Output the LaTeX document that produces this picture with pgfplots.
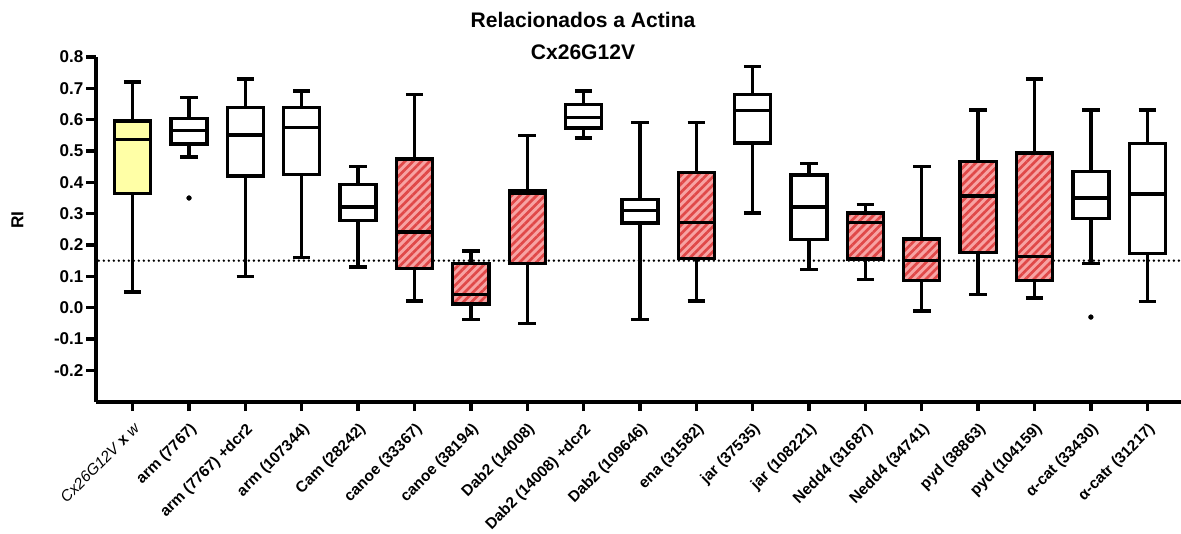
\documentclass[border=0pt]{standalone}
\usepackage{pgfplots}
\pgfplotsset{compat=1.18}
\usepgfplotslibrary{statistics}
\usetikzlibrary{patterns.meta}
\usepackage{fontspec}
\setmainfont{Liberation Sans}
\definecolor{hatchbg}{HTML}{F7A3A3}
\definecolor{hatchfg}{HTML}{E04848}
\definecolor{yel}{HTML}{FFFFA6}
\pgfplotsset{
  wbox/.style={black, line width=2.5pt, solid,
    boxplot/every box/.style={fill=white},
    mark=*, mark size=1.8pt, mark options={solid, fill=black, line width=0.3pt}},
  ybox/.style={black, line width=2.5pt, solid,
    boxplot/every box/.style={fill=yel},
    mark=*, mark size=1.8pt, mark options={solid, fill=black, line width=0.3pt}},
  hbox/.style={black, line width=2.5pt, solid,
    boxplot/every box/.style={fill=hatchbg,
      postaction={pattern={Lines[angle=45,distance=4.4pt,line width=2pt]}, pattern color=hatchfg},
      postaction={draw=black, line width=2.5pt}},
    mark=*, mark size=1.8pt, mark options={solid, fill=black, line width=0.3pt}},
}
\begin{document}
\begin{tikzpicture}
\path[use as bounding box] (0,0) rectangle (885.75pt,399.75pt);
\node[font=\fontsize{15.8}{18}\selectfont\bfseries, inner sep=0pt, anchor=center] at (437.25pt,385.1pt) {Relacionados a Actina};
\node[font=\fontsize{15.8}{18}\selectfont\bfseries, inner sep=0pt, anchor=center] at (437.25pt,360.4pt) {Cx26G12V};
\node[font=\fontsize{13}{15}\selectfont\bfseries, inner sep=0pt, anchor=center, rotate=90] at (13.1pt,234.75pt) {RI};
\begin{axis}[
  at={(71.8pt,98.5pt)}, anchor=south west,
  scale only axis, width=814pt, height=258.5pt,
  xmin=-0.655, xmax=18.6, ymin=-0.3, ymax=0.8,
  clip=false,
  axis x line*=bottom, axis y line*=left,
  axis line style={line width=3pt, -},
  tick align=outside,
  major tick length=7pt,
  tick style={line width=2.5pt, black},
  ytick={-0.2,-0.1,0,0.1,0.2,0.3,0.4,0.5,0.6,0.7,0.8},
  yticklabels={-0.2,-0.1,0.0,0.1,0.2,0.3,0.4,0.5,0.6,0.7,0.8},
  xtick={0,...,18},
  xticklabels={{\mdseries\itshape Cx26G12V} x {\mdseries\itshape w},
    arm (7767), arm (7767) +dcr2, arm (107344), Cam (28242), canoe (33367),
    canoe (38194), Dab2 (14008), Dab2 (14008) +dcr2, Dab2 (109646),
    ena (31582), jar (37535), jar (108221), Nedd4 (31687), Nedd4 (34741),
    pyd (38863), pyd (104159), α-cat (33430), α-catr (31217)},
  yticklabel style={font=\fontsize{12.8}{15}\selectfont\bfseries, inner sep=2pt},
  xticklabel style={font=\fontsize{11.6}{13}\selectfont\bfseries, yshift=-6pt, rotate=45, anchor=north east, inner sep=1.5pt},
  boxplot/draw direction=y,
  boxplot/box extend=0.64,
  boxplot/whisker extend=0.31,
]
\addplot[black, line width=2pt, dash pattern=on 0pt off 3.75pt, line cap=round] coordinates {(-0.6,0.15) (18.6,0.15)};

\addplot[ybox, boxplot prepared={draw position=0, lower whisker=0.05, lower quartile=0.365, median=0.537, upper quartile=0.596, upper whisker=0.72}] coordinates {};
\addplot[wbox, boxplot prepared={draw position=1, lower whisker=0.481, lower quartile=0.522, median=0.566, upper quartile=0.604, upper whisker=0.671}] table[row sep=\\, y index=0] {y\\ 0.35\\};
\addplot[wbox, boxplot prepared={draw position=2, lower whisker=0.10, lower quartile=0.42, median=0.551, upper quartile=0.639, upper whisker=0.73}] coordinates {};
\addplot[wbox, boxplot prepared={draw position=3, lower whisker=0.16, lower quartile=0.425, median=0.576, upper quartile=0.638, upper whisker=0.692}] coordinates {};
\addplot[wbox, boxplot prepared={draw position=4, lower whisker=0.13, lower quartile=0.279, median=0.321, upper quartile=0.393, upper whisker=0.451}] coordinates {};
\addplot[hbox, boxplot prepared={draw position=5, lower whisker=0.021, lower quartile=0.125, median=0.242, upper quartile=0.474, upper whisker=0.681}] coordinates {};
\addplot[hbox, boxplot prepared={draw position=6, lower whisker=-0.038, lower quartile=0.012, median=0.042, upper quartile=0.14, upper whisker=0.181}] coordinates {};
\addplot[hbox, boxplot prepared={draw position=7, lower whisker=-0.05, lower quartile=0.14, median=0.366, upper quartile=0.372, upper whisker=0.55}] coordinates {};
\addplot[wbox, boxplot prepared={draw position=8, lower whisker=0.542, lower quartile=0.573, median=0.607, upper quartile=0.648, upper whisker=0.692}] coordinates {};
\addplot[wbox, boxplot prepared={draw position=9, lower whisker=-0.038, lower quartile=0.27, median=0.311, upper quartile=0.346, upper whisker=0.591}] coordinates {};
\addplot[hbox, boxplot prepared={draw position=10, lower whisker=0.021, lower quartile=0.157, median=0.272, upper quartile=0.431, upper whisker=0.591}] coordinates {};
\addplot[wbox, boxplot prepared={draw position=11, lower whisker=0.302, lower quartile=0.526, median=0.63, upper quartile=0.68, upper whisker=0.77}] coordinates {};
\addplot[wbox, boxplot prepared={draw position=12, lower whisker=0.121, lower quartile=0.217, median=0.321, upper quartile=0.423, upper whisker=0.46}] coordinates {};
\addplot[hbox, boxplot prepared={draw position=13, lower whisker=0.09, lower quartile=0.155, median=0.272, upper quartile=0.302, upper whisker=0.33}] coordinates {};
\addplot[hbox, boxplot prepared={draw position=14, lower whisker=-0.011, lower quartile=0.087, median=0.15, upper quartile=0.219, upper whisker=0.451}] coordinates {};
\addplot[hbox, boxplot prepared={draw position=15, lower whisker=0.042, lower quartile=0.176, median=0.356, upper quartile=0.466, upper whisker=0.631}] coordinates {};
\addplot[hbox, boxplot prepared={draw position=16, lower whisker=0.031, lower quartile=0.087, median=0.164, upper quartile=0.494, upper whisker=0.73}] coordinates {};
\addplot[wbox, boxplot prepared={draw position=17, lower whisker=0.14, lower quartile=0.284, median=0.35, upper quartile=0.434, upper whisker=0.631}] table[row sep=\\, y index=0] {y\\ -0.03\\};
\addplot[wbox, boxplot prepared={draw position=18, lower whisker=0.02, lower quartile=0.172, median=0.363, upper quartile=0.524, upper whisker=0.631}] coordinates {};
\end{axis}
\end{tikzpicture}
\end{document}
